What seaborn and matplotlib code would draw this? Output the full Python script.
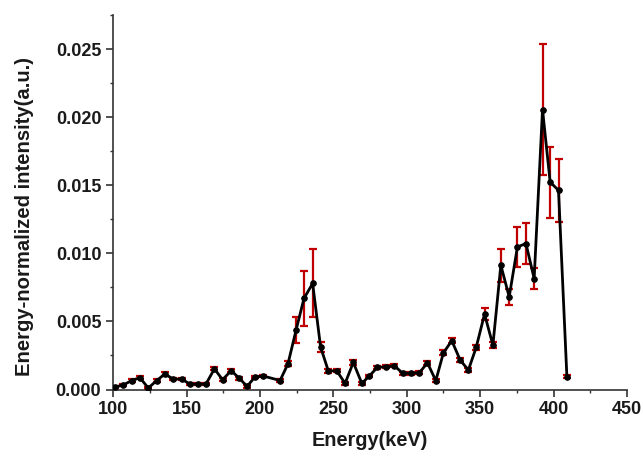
import matplotlib
matplotlib.use("Agg")
import matplotlib.pyplot as plt
import seaborn as sns
import pandas as pd
from matplotlib.ticker import MultipleLocator

energy = [101.2, 106.8, 112.5, 118.2, 123.9, 129.6, 135.2, 140.9, 146.6, 152.3,
          158.0, 163.2, 169.0, 174.5, 180.4, 186.0, 191.2, 196.6, 202.3, 213.7,
          219.1, 224.6, 230.0, 235.9, 241.3, 246.6, 252.3, 258.0, 263.6, 269.4,
          274.5, 280.0, 285.9, 291.6, 297.3, 303.0, 308.6, 314.1, 319.8, 325.0,
          330.7, 336.4, 342.0, 347.3, 353.0, 358.7, 364.1, 369.8, 375.4, 381.2,
          386.8, 392.5, 397.7, 403.4, 409.1]
intensity = [0.00018, 0.00033, 0.00065, 0.00087, 0.00011, 0.00065, 0.00114, 0.00077, 0.00077, 0.00040,
             0.00040, 0.00040, 0.00152, 0.00072, 0.00138, 0.00082, 0.00023, 0.00092, 0.00099, 0.00066,
             0.00189, 0.00436, 0.00669, 0.00779, 0.00312, 0.00136, 0.00138, 0.00045, 0.00199, 0.00045,
             0.00099, 0.00163, 0.00167, 0.00174, 0.00119, 0.00119, 0.00123, 0.00196, 0.00065, 0.00270,
             0.00358, 0.00216, 0.00143, 0.00309, 0.00554, 0.00326, 0.00913, 0.00680, 0.01047, 0.01072,
             0.00815, 0.02056, 0.01523, 0.01463, 0.00094]
error = [0.0001, 0.0001, 0.0001, 0.00012, 0.0001, 0.0001, 0.00012, 0.0001, 0.0001, 0.0001,
         0.0001, 0.0001, 0.00012, 0.0001, 0.00012, 0.0001, 0.0001, 0.0001, 0.0001, 0.0001,
         0.0002, 0.00094, 0.0020, 0.0025, 0.00037, 0.00015, 0.00012, 0.0001, 0.0002, 0.0001,
         0.0001, 0.00012, 0.00012, 0.00012, 0.0001, 0.0001, 0.0001, 0.00015, 0.0001, 0.0002,
         0.0002, 0.00012, 0.00012, 0.0002, 0.00046, 0.0002, 0.0012, 0.0006, 0.00146, 0.0015,
         0.0008, 0.0048, 0.0026, 0.0023, 0.0001]

x_ticks = [100, 150, 200, 250, 300, 350, 400, 450]
y_ticks = [0.000, 0.005, 0.010, 0.015, 0.020, 0.025]

df = pd.DataFrame({"Energy": energy, "Intensity": intensity, "Error": error})

sns.set_theme(style="ticks")
plt.rcParams['font.family'] = ['Liberation Sans', 'DejaVu Sans']
plt.rcParams['font.weight'] = 'bold'

fig = plt.figure(figsize=(6.43, 4.57), dpi=100)
ax = fig.add_axes([0.176, 0.1477, 0.799, 0.8193])

ax.errorbar(df["Energy"], df["Intensity"], yerr=df["Error"], fmt='none',
            ecolor='#c00000', elinewidth=1.6, capsize=3.0, capthick=1.6, zorder=2)
sns.lineplot(data=df, x="Energy", y="Intensity", ax=ax, color='black', linewidth=2.0,
             marker='o', markersize=4, markeredgecolor='black', markerfacecolor='black',
             zorder=3)

ax.set_xlim(100, 450)
ax.set_ylim(0, 0.0275)
ax.set_xticks(x_ticks)
ax.set_yticks(y_ticks)
ax.set_xticklabels([str(t) for t in x_ticks])
ax.set_yticklabels([f"{t:.3f}" for t in y_ticks])
ax.xaxis.set_minor_locator(MultipleLocator(25))
ax.yaxis.set_minor_locator(MultipleLocator(0.0025))
ax.tick_params(axis='both', which='major', direction='out', length=5, width=1.2,
               labelsize=13, color='#333333', labelcolor='#1a1a1a', pad=3.5)
ax.tick_params(axis='both', which='minor', direction='out', length=2.5, width=1.0, color='#333333')
for lbl in ax.get_xticklabels() + ax.get_yticklabels():
    lbl.set_fontweight('bold')

for s in ['top', 'right']:
    ax.spines[s].set_visible(False)
for s in ['left', 'bottom']:
    ax.spines[s].set_linewidth(1.2)
    ax.spines[s].set_color('#333333')

ax.set_xlabel("Energy(keV)", fontsize=14.3, fontweight='bold', color='#1a1a1a')
ax.set_ylabel("Energy-normalized intensity(a.u.)", fontsize=14.6, fontweight='bold', color='#1a1a1a')
ax.xaxis.set_label_coords(0.5, -0.135)
ax.yaxis.set_label_coords(-0.172, 0.463)
ax.yaxis.label.set_verticalalignment('center')
ax.xaxis.label.set_verticalalignment('center')

fig.savefig("out.png", dpi=100)
